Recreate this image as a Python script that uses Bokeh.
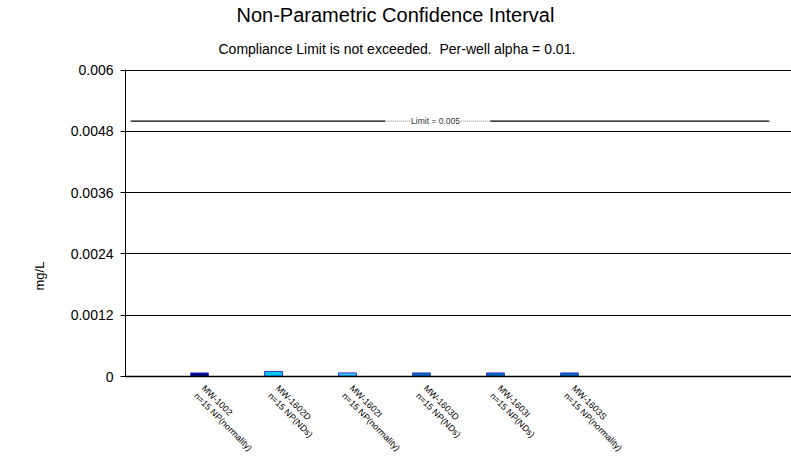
from bokeh.plotting import figure
from bokeh.models import Label, FixedTicker, Range1d, ColumnDataSource, Title
from bokeh.embed import file_html
from bokeh.resources import INLINE
import math

# ---- data ----
wells = ["MW-1002", "MW-1602D", "MW-1602I", "MW-1603D", "MW-1603I", "MW-1603S"]
notes = ["n=15 NP(normality)", "n=15 NP(NDs)", "n=15 NP(normality)",
         "n=15 NP(NDs)", "n=15 NP(NDs)", "n=15 NP(normality)"]
positions = [1, 2, 3, 4, 5, 6]
lower = [0.000005, 0.000005, 0.000005, 0.000005, 0.000005, 0.000005]
upper = [0.00007, 0.0001, 0.00007, 0.00007, 0.00007, 0.00007]
bar_fill = ["#000080", "#00CCFF", "#33CCFF", "#0070C0", "#0070C0", "#0070C0"]
bar_line = ["#3333CC", "#3333CC", "#3333CC", "#3333CC", "#3333CC", "#3333CC"]
limit = 0.005
y_ticks = [0, 0.0012, 0.0024, 0.0036, 0.0048, 0.006]
y_tick_labels = ["0", "0.0012", "0.0024", "0.0036", "0.0048", "0.006"]
title = "Non-Parametric Confidence Interval"
subtitle = "Compliance Limit is not exceeded.\u00a0 Per-well alpha = 0.01."
y_label = "mg/L"

FONT = "Liberation Sans"

p = figure(width=791, height=469, output_backend="svg", toolbar_location=None,
           x_range=Range1d(0, 9), y_range=Range1d(0, 0.00601),
           min_border_left=125, min_border_right=0, min_border_top=0,
           min_border_bottom=93)
p.title = None
p.outline_line_color = None
p.background_fill_color = "white"
p.border_fill_color = "white"

# titles
p.add_layout(Title(text=subtitle, align="left", offset=93, text_font=FONT,
                   text_font_size="14px", text_font_style="normal",
                   text_color="black", standoff=25), "above")
p.add_layout(Title(text=title, align="left", offset=111, text_font=FONT,
                   text_font_size="20px", text_font_style="normal",
                   text_color="black", standoff=2), "above")

# grid
p.xgrid.grid_line_color = None
p.ygrid.grid_line_color = "#000000"
p.ygrid.grid_line_width = 1
p.ygrid.ticker = FixedTicker(ticks=y_ticks)

# y axis
p.yaxis.ticker = FixedTicker(ticks=y_ticks)
p.yaxis.major_label_overrides = {t: l for t, l in zip(y_ticks, y_tick_labels)}
p.yaxis.axis_line_color = "black"
p.yaxis.major_tick_line_color = "black"
p.yaxis.major_tick_in = 4
p.yaxis.major_tick_out = 5
p.yaxis.minor_tick_line_color = None
p.yaxis.major_label_standoff = 7
p.yaxis.major_label_text_font = FONT
p.yaxis.major_label_text_font_size = "14px"
p.yaxis.major_label_text_color = "black"

# y label as a left-side title
p.add_layout(Title(text=y_label, align="left", offset=86, text_font=FONT,
                   text_font_size="13px", text_font_style="normal",
                   text_color="black", standoff=41), "left")

# x axis
p.xaxis.ticker = FixedTicker(ticks=positions)
p.xaxis.major_label_overrides = {x: f"{w}\n{n}" for x, w, n in zip(positions, wells, notes)}
p.xaxis.major_label_orientation = -math.pi / 4
p.xaxis.axis_line_color = "black"
p.xaxis.axis_line_width = 1.5
p.xaxis.major_tick_line_color = None
p.xaxis.minor_tick_line_color = None
p.xaxis.major_label_standoff = 8
p.xaxis.major_label_text_font = FONT
p.xaxis.major_label_text_font_size = "9px"
p.xaxis.major_label_text_line_height = 1.1
p.xaxis.major_label_text_color = "black"

# limit line
p.segment(x0=[0.07, 4.93], y0=[limit, limit], x1=[3.51, 8.70], y1=[limit, limit],
          line_color="black", line_width=1.3)
p.segment(x0=[3.51], y0=[limit], x1=[4.93], y1=[limit],
          line_color="#888888", line_width=1, line_dash="1 1")
p.add_layout(Label(x=4.19, y=limit, text=f"Limit = {limit}", text_align="center",
                   text_baseline="middle", text_font=FONT, text_font_size="8.5px",
                   text_color="#333333", background_fill_color="white"))

# CI bars
src = ColumnDataSource(dict(x=positions, bottom=lower, top=upper,
                            fill=bar_fill, line=bar_line))
p.vbar(x="x", bottom="bottom", top="top", width=0.24, source=src,
       fill_color="fill", line_color="line", line_width=1)

open("out.html", "w").write(file_html(p, INLINE))
